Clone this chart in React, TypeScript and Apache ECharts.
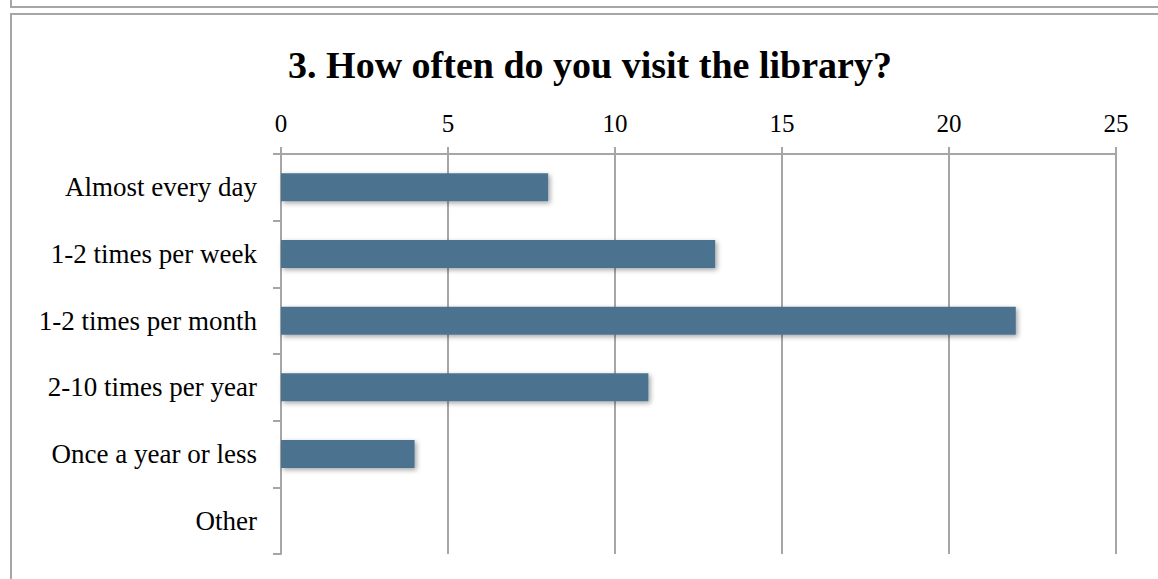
import React, { useEffect, useRef } from "react";
import * as echarts from "echarts";

const categories = [
  "Almost every day",
  "1-2 times per week",
  "1-2 times per month",
  "2-10 times per year",
  "Once a year or less",
  "Other",
];
const counts = [8, 13, 22, 11, 4, 0];
const titleText = "3. How often do you visit the library?";

const W = 1158;
const H = 579;
const FONT = '"Liberation Serif", "DejaVu Serif", serif';
const GRAY = "#a6a6a6";

export default function App() {
  const ref = useRef<HTMLDivElement>(null);
  useEffect(() => {
    if (!ref.current) return;
    const chart = echarts.init(ref.current, null, { renderer: "svg" });
    chart.setOption({
      animation: false,
      backgroundColor: "#ffffff",
      title: {
        text: titleText,
        left: 585,
        top: 41,
        textAlign: "center",
        textStyle: { fontFamily: FONT, fontWeight: "bold", fontSize: 38, color: "#000" },
      },
      grid: { left: 281, top: 154, right: W - 1116, bottom: H - 554, containLabel: false },
      xAxis: {
        type: "value",
        position: "top",
        min: 0,
        max: 25,
        interval: 5,
        axisLine: { show: true, lineStyle: { color: GRAY, width: 2 } },
        axisTick: { show: true, length: 7, lineStyle: { color: GRAY, width: 2 } },
        splitLine: { show: true, lineStyle: { color: GRAY, width: 2 } },
        axisLabel: { fontFamily: FONT, fontSize: 25, color: "#000", margin: 18 },
      },
      yAxis: {
        type: "category",
        inverse: true,
        data: categories,
        axisLine: { show: true, lineStyle: { color: GRAY, width: 2 } },
        axisTick: { show: true, length: 8, alignWithLabel: false, lineStyle: { color: GRAY, width: 2 } },
        axisLabel: { fontFamily: FONT, fontSize: 27, color: "#000", margin: 24 },
      },
      series: [
        {
          type: "bar",
          data: counts,
          barWidth: 28,
          itemStyle: {
            color: "#4b7390",
            shadowColor: "rgba(0,0,0,0.35)",
            shadowBlur: 5,
            shadowOffsetX: 2,
            shadowOffsetY: 2,
          },
        },
      ],
      graphic: [
        { type: "line", shape: { x1: 11, y1: 0, x2: 11, y2: 7 }, style: { stroke: GRAY, lineWidth: 2 } },
        { type: "line", shape: { x1: 10, y1: 7, x2: W, y2: 7 }, style: { stroke: GRAY, lineWidth: 2 } },
        { type: "line", shape: { x1: 10, y1: 14, x2: W, y2: 14 }, style: { stroke: GRAY, lineWidth: 2 } },
        { type: "line", shape: { x1: 11, y1: 14, x2: 11, y2: H }, style: { stroke: GRAY, lineWidth: 2 } },
      ],
    });
    return () => chart.dispose();
  }, []);
  return (
    <div
      ref={ref}
      style={{ position: "absolute", left: 0, top: 0, width: W, height: H }}
    />
  );
}
